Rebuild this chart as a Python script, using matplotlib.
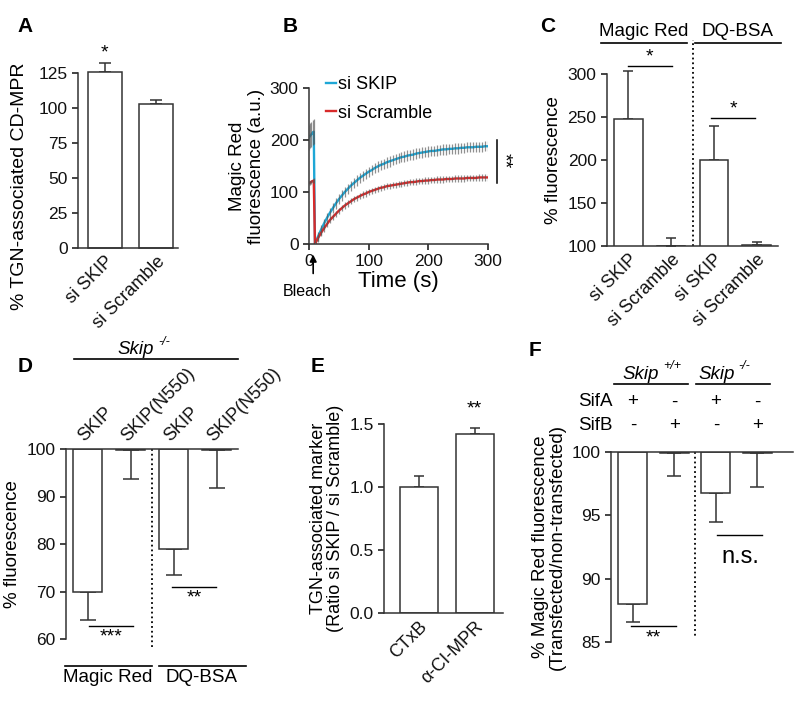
import numpy as np
import matplotlib
matplotlib.use('Agg')
import matplotlib.pyplot as plt

plt.rcParams['font.family'] = ['Liberation Sans', 'DejaVu Sans']
plt.rcParams['axes.linewidth'] = 1.1
plt.rcParams['axes.edgecolor'] = '#333333'

W, H = 800, 709

# --- panel A
a_labels = ['si SKIP', 'si Scramble']
a_vals = [126, 103]
a_err = [6, 3]

# --- panel B (magic red recovery after bleach)
b_pre_t = [0, 2, 4, 6, 8]
b_skip_pre = [205, 208, 211, 214, 216]
b_scr_pre = [117, 118, 120, 121, 122]
b_t = list(range(10, 305, 5))
b_skip = [0, 14, 27, 39, 50, 60, 69, 78, 86, 93, 100, 106, 112, 117, 122, 127,
          131, 135, 139, 142, 146, 149, 152, 154, 157, 159, 161, 163, 165, 167,
          168, 170, 171, 172, 174, 175, 176, 177, 178, 179, 179, 180, 181, 182,
          182, 183, 183, 184, 184, 185, 185, 186, 186, 186, 187, 187, 187, 188, 188]
b_scr = [0, 11, 21, 30, 38, 46, 52, 58, 64, 69, 74, 78, 82, 86, 89, 92, 95, 97,
         100, 102, 104, 106, 108, 109, 111, 112, 113, 114, 115, 116, 117, 118,
         119, 119, 120, 121, 121, 122, 122, 123, 123, 124, 124, 124, 125, 125,
         125, 126, 126, 126, 126, 127, 127, 127, 127, 128, 128, 128, 128]
b_skip_sem_pre = 24
b_skip_sem = 10
b_scr_sem_pre = 4
b_scr_sem = 6

# --- panel C
c_labels = ['si SKIP', 'si Scramble', 'si SKIP', 'si Scramble']
c_vals = [248, 100.5, 200, 101]
c_err = [55, 8.5, 40, 3.5]

# --- panel D
d_labels = ['SKIP', 'SKIP(N550)', 'SKIP', 'SKIP(N550)']
d_vals = [70, 99.8, 79, 99.8]
d_err = [5.9, 6.1, 5.5, 8.1]

# --- panel E
e_labels = ['CTxB', 'α-CI-MPR']
e_vals = [1.0, 1.42]
e_err = [0.09, 0.05]

# --- panel F
f_vals = [88.0, 99.9, 96.8, 99.9]
f_err = [1.4, 1.8, 2.3, 2.7]
f_sifa = ['+', '-', '+', '-']
f_sifb = ['-', '+', '-', '+']

TICK = 12.5
XLAB = 13
YLAB = 13.5

fig = plt.figure(figsize=(8, 7.09), dpi=100)


def add_ax(x0, x1, ytop, ybot):
    return fig.add_axes([x0 / W, 1 - ybot / H, (x1 - x0) / W, (ybot - ytop) / H])


def style(ax, hanging=False):
    ax.spines['right'].set_visible(False)
    if hanging:
        ax.spines['bottom'].set_visible(False)
    else:
        ax.spines['top'].set_visible(False)
    ax.tick_params(direction='out', length=4, width=1.1, labelsize=TICK, colors='#111111')
    ax.tick_params(axis='x', length=0, labelsize=XLAB)


def letter(x, y, s):
    fig.text(x / W, 1 - y / H, s, fontsize=15, fontweight='bold', ha='center', va='center')


def genotype(ax, x, y, sup):
    # italic "Skip" with a small raised genotype
    ax.text(x, y, 'Skip', style='italic', ha='right', va='baseline', fontsize=13.5)
    ax.annotate(sup, xy=(x, y), xytext=(3, 7), textcoords='offset points',
                style='italic', ha='left', va='baseline', fontsize=9, annotation_clip=False)


bar_kw = dict(color='white', edgecolor='#333333', linewidth=1.1, zorder=2)
err_kw = dict(fmt='none', ecolor='#333333', elinewidth=1.1, capthick=1.1, zorder=1)

# ================= A
ax = add_ax(78, 178, 73, 248)
x = np.arange(len(a_vals))
ax.bar(x, a_vals, width=0.66, clip_on=False, **bar_kw)
ax.errorbar(x, a_vals, yerr=[[0] * 2, a_err], capsize=4, clip_on=False, **err_kw)
ax.set_ylim(0, 125)
ax.set_xlim(-0.52, 1.42)
ax.set_yticks([0, 25, 50, 75, 100, 125])
ax.set_xticks(x)
ax.set_xticklabels(a_labels, rotation=45, ha='right', rotation_mode='anchor')
style(ax)
ax.set_ylabel('% TGN-associated CD-MPR', fontsize=YLAB + 0.5)
ax.yaxis.set_label_coords(-0.5, 0.35)
ax.text(0, 133, '*', ha='center', va='bottom', fontsize=14)
letter(25, 26, 'A')

# ================= B
ax = add_ax(309, 488, 88, 244)
t_all = b_pre_t + b_t
v_skip = b_skip_pre + b_skip
v_scr = b_scr_pre + b_scr
e_skip = [b_skip_sem_pre] * len(b_pre_t) + [b_skip_sem] * len(b_t)
e_scr = [b_scr_sem_pre] * len(b_pre_t) + [b_scr_sem] * len(b_t)
l1, = ax.plot(t_all, v_skip, color='#1ea7d6', lw=1.7, zorder=2, label='si SKIP')
l2, = ax.plot(t_all, v_scr, color='#d82a2a', lw=1.7, zorder=2, label='si Scramble')
ax.errorbar(t_all, v_skip, yerr=e_skip, fmt='none', ecolor='#555555', elinewidth=0.9,
            alpha=0.65, zorder=3)
ax.errorbar(t_all, v_scr, yerr=e_scr, fmt='none', ecolor='#555555', elinewidth=0.9,
            alpha=0.65, zorder=3)
ax.set_xlim(0, 300)
ax.set_ylim(0, 300)
ax.set_xticks([0, 100, 200, 300])
ax.set_yticks([0, 100, 200, 300])
style(ax)
ax.tick_params(axis='x', length=4, labelsize=TICK)
ax.set_xlabel('Time (s)', fontsize=16, labelpad=1)
ax.set_ylabel('Magic Red\nfluorescence (a.u.)', fontsize=YLAB, labelpad=3)
ax.legend(handles=[l1, l2], loc='upper left', bbox_to_anchor=(326 / W, 1 - 76 / H),
          bbox_transform=fig.transFigure, frameon=False, handlelength=0.55,
          handletextpad=0.1, labelspacing=0.65, fontsize=13, borderpad=0, borderaxespad=0)
ax.plot([315, 315], [117, 200], color='black', lw=1.1, clip_on=False)
ax.text(327, 160, '**', rotation=270, ha='center', va='center', fontsize=14)
ax.annotate('', xy=(7, -15), xytext=(7, -62), annotation_clip=False,
            arrowprops=dict(arrowstyle='-|>', color='black', lw=1.2, mutation_scale=10))
ax.text(-3, -92, 'Bleach', ha='center', va='center', fontsize=11.5)
letter(290, 26, 'B')

# ================= C
ax = add_ax(607, 778, 74, 246)
x = np.arange(len(c_vals))
ax.bar(x, c_vals, width=0.67, **bar_kw)
ax.errorbar(x, c_vals, yerr=[[0] * 4, c_err], capsize=3.3, clip_on=False, **err_kw)
ax.set_ylim(100, 300)
ax.set_xlim(-0.5, 3.5)
ax.set_yticks([100, 150, 200, 250, 300])
ax.set_xticks(x)
ax.set_xticklabels(c_labels, rotation=45, ha='right', rotation_mode='anchor')
style(ax)
ax.set_ylabel('% fluorescence', fontsize=YLAB)
ax.plot([1.5, 1.5], [100, 340], ls=':', color='black', lw=1.3, clip_on=False)
for x0, x1, xc, name in [(-0.64, 1.36, 0.36, 'Magic Red'), (1.57, 3.57, 2.55, 'DQ-BSA')]:
    ax.plot([x0, x1], [336, 336], color='black', lw=1.2, clip_on=False)
    ax.text(xc, 339, name, ha='center', va='bottom', fontsize=13.5)
ax.plot([0, 1.03], [309, 309], color='black', lw=1.0, clip_on=False)
ax.text(0.5, 310, '*', ha='center', va='bottom', fontsize=14)
ax.plot([1.94, 2.97], [249, 249], color='black', lw=1.0, clip_on=False)
ax.text(2.45, 250, '*', ha='center', va='bottom', fontsize=14)
letter(548, 26, 'C')

# ================= D
ax = add_ax(66, 238, 449, 639)
x = np.arange(len(d_vals))
dv = np.array(d_vals)
ax.bar(x, dv - 100, bottom=100, width=0.67, **bar_kw)
ax.errorbar(x, dv, yerr=[d_err, [0] * 4], capsize=5.5, clip_on=False, **err_kw)
ax.set_ylim(60, 100)
ax.set_xlim(-0.5, 3.5)
ax.set_yticks([60, 70, 80, 90, 100])
style(ax, hanging=True)
ax.xaxis.tick_top()
ax.set_xticks(x)
ax.set_xticklabels(d_labels, rotation=45, ha='left', rotation_mode='anchor')
ax.tick_params(axis='x', pad=3)
ax.set_ylabel('% fluorescence', fontsize=YLAB)
ax.plot([1.5, 1.5], [100, 58.1], ls=':', color='black', lw=1.3, clip_on=False)
ax.plot([0.03, 1.06], [62.7, 62.7], color='black', lw=1.0, clip_on=False)
ax.text(0.55, 62.3, '***', ha='center', va='top', fontsize=14)
ax.plot([1.97, 2.99], [70.9, 70.9], color='black', lw=1.0, clip_on=False)
ax.text(2.48, 70.5, '**', ha='center', va='top', fontsize=14)
ax.plot([-0.31, 3.5], [118.9, 118.9], color='black', lw=1.2, clip_on=False)
genotype(ax, 1.55, 119.9, '-/-')
for x0, x1, xc, name in [(-0.52, 1.5, 0.48, 'Magic Red'), (1.66, 3.69, 2.66, 'DQ-BSA')]:
    ax.plot([x0, x1], [54.3, 54.3], color='black', lw=1.2, clip_on=False)
    ax.text(xc, 53.6, name, ha='center', va='top', fontsize=13.5)
letter(25, 367, 'D')

# ================= E
ax = add_ax(384, 503, 424, 613)
x = np.arange(len(e_vals))
ax.bar(x, e_vals, width=0.68, **bar_kw)
ax.errorbar(x, e_vals, yerr=[[0] * 2, e_err], capsize=3.6, clip_on=False, **err_kw)
ax.set_ylim(0, 1.5)
ax.set_xlim(-0.63, 1.51)
ax.set_yticks([0, 0.5, 1.0, 1.5])
ax.set_yticklabels(['0.0', '0.5', '1.0', '1.5'])
ax.set_xticks(x)
ax.set_xticklabels(e_labels, rotation=45, ha='right', rotation_mode='anchor')
style(ax)
ax.set_ylabel('TGN-associated marker\n(Ratio si SKIP / si Scramble)', fontsize=YLAB - 0.5,
              linespacing=1.0)
ax.text(1, 1.55, '**', ha='center', va='bottom', fontsize=14)
letter(318, 367, 'E')

# ================= F
ax = add_ax(611, 793, 452, 642)
x = np.arange(len(f_vals))
fv = np.array(f_vals)
ax.bar(x, fv - 100, bottom=100, width=0.7, **bar_kw)
ax.errorbar(x, fv, yerr=[f_err, [0] * 4], capsize=5, clip_on=False, **err_kw)
ax.set_ylim(85, 100)
ax.set_xlim(-0.53, 3.86)
ax.set_yticks([85, 90, 95, 100])
ax.set_xticks([])
style(ax, hanging=True)
ax.set_ylabel('% Magic Red fluorescence\n(Transfected/non-transfected)', fontsize=YLAB,
              linespacing=1.0)
ax.plot([1.5, 1.5], [100, 85.5], ls=':', color='black', lw=1.3, clip_on=False)
ax.plot([-0.05, 1.04], [86.27, 86.27], color='black', lw=1.0, clip_on=False)
ax.text(0.5, 86.0, '**', ha='center', va='top', fontsize=14)
ax.plot([2.03, 3.12], [93.45, 93.45], color='black', lw=1.0, clip_on=False)
ax.text(2.58, 91.7, 'n.s.', ha='center', va='center', fontsize=17)
ax.text(-0.48, 103.95, 'SifA', ha='right', va='center', fontsize=13.5)
ax.text(-0.48, 102.1, 'SifB', ha='right', va='center', fontsize=13.5)
for i in range(4):
    ax.text(x[i], 103.95, f_sifa[i], ha='center', va='center', fontsize=13.5)
    ax.text(x[i], 102.1, f_sifb[i], ha='center', va='center', fontsize=13.5)
for x0, x1, xc, sup in [(-0.46, 1.33, 0.62, '+/+'), (1.52, 3.31, 2.45, '-/-')]:
    ax.plot([x0, x1], [105.4, 105.4], color='black', lw=1.2, clip_on=False)
    genotype(ax, xc, 105.75, sup)
letter(535, 350, 'F')

fig.savefig('out.png', dpi=100)
